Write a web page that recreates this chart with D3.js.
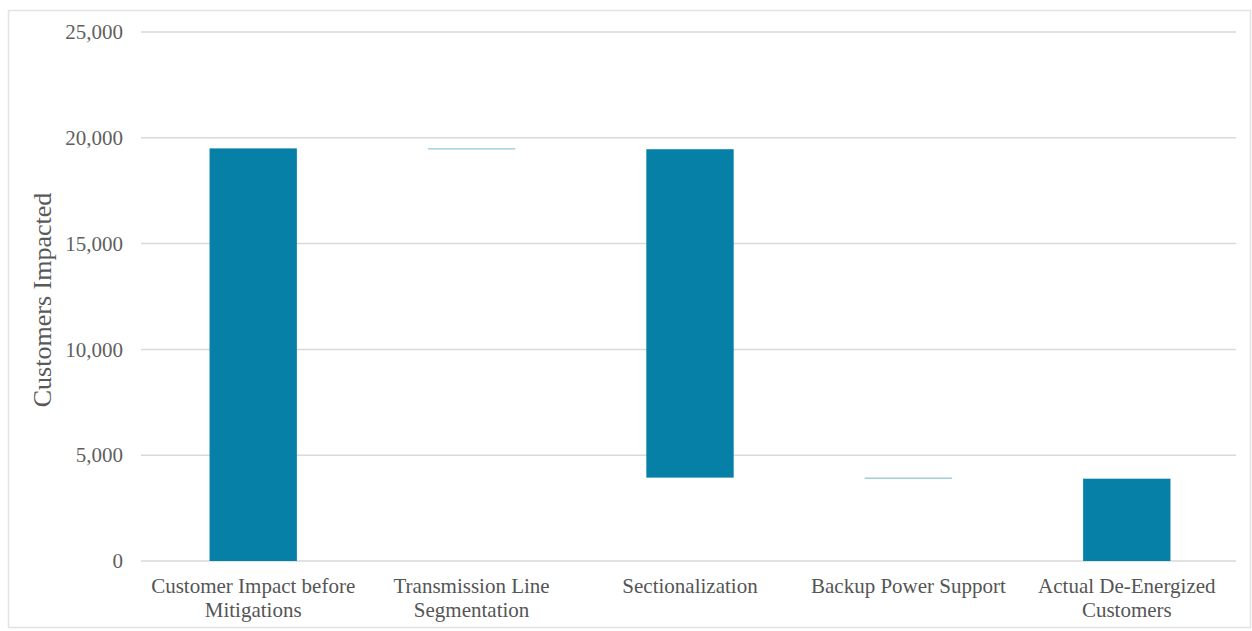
<!DOCTYPE html>
<html>
<head>
<meta charset="utf-8">
<script src="https://cdn.jsdelivr.net/npm/d3@7"></script>
<style>
  html, body { margin: 0; padding: 0; background: #fff; }
  svg { display: block; }
  text { font-family: "Liberation Serif", "Times New Roman", serif; }
</style>
</head>
<body>
<svg id="chart" width="1252" height="631"></svg>
<script>
// ---- data ----
const categories = [
  "Customer Impact before Mitigations",
  "Transmission Line Segmentation",
  "Sectionalization",
  "Backup Power Support",
  "Actual De-Energized Customers"
];
const categoryLabelLines = [
  ["Customer Impact before", "Mitigations"],
  ["Transmission Line", "Segmentation"],
  ["Sectionalization"],
  ["Backup Power Support"],
  ["Actual De-Energized", "Customers"]
];
// waterfall steps: first is the starting total, middle are reductions, last is a total
const stepValues = [19500, -40, -15520, -50, 3890];
const stepIsTotal = [true, false, false, false, true];
const yTickValues = [0, 5000, 10000, 15000, 20000, 25000];
const yTickLabels = ["0", "5,000", "10,000", "15,000", "20,000", "25,000"];
const yAxisTitle = "Customers Impacted";

// build floating bar extents
let running = 0;
const bars = categories.map((c, i) => {
  let lo, hi;
  if (stepIsTotal[i]) { lo = 0; hi = stepValues[i]; running = stepValues[i]; }
  else { const next = running + stepValues[i]; lo = Math.min(running, next); hi = Math.max(running, next); running = next; }
  return { cat: c, lo, hi };
});

const svg = d3.select("#chart");

// frame
svg.append("rect").attr("x", 8.5).attr("y", 10.5).attr("width", 1242).attr("height", 617)
  .attr("fill", "none").attr("stroke", "#e3e3e3").attr("stroke-width", 1.5);

const x = d3.scaleBand().domain(categories).range([144, 1236]).paddingInner(0.6).paddingOuter(0.3);
const y = d3.scaleLinear().domain([0, 25000]).range([561, 32]);

// gridlines
svg.append("g").selectAll("line").data(yTickValues).join("line")
  .attr("x1", 141).attr("x2", 1236)
  .attr("y1", d => y(d)).attr("y2", d => y(d))
  .attr("stroke", "#d9d9d9").attr("stroke-width", 1.5);

// y axis labels
const yAxis = d3.axisLeft(y).tickValues(yTickValues)
  .tickFormat((d, i) => yTickLabels[i]).tickSize(0).tickPadding(0);
const gy = svg.append("g").attr("transform", "translate(123,0)").call(yAxis);
gy.select(".domain").remove();
gy.selectAll("text").attr("font-family", "Liberation Serif, serif")
  .attr("font-size", 21).attr("fill", "#5f5f5f").attr("dy", "0.32em");

// bars
svg.append("g").selectAll("rect").data(bars).join("rect")
  .attr("x", d => x(d.cat))
  .attr("width", x.bandwidth())
  .attr("y", d => y(d.hi))
  .attr("height", d => Math.max(1, y(d.lo) - y(d.hi)))
  .attr("fill", "#0780a8")
  .attr("fill-opacity", d => (y(d.lo) - y(d.hi)) < 3 ? 0.55 : 1);

// x axis labels
const xAxis = d3.axisBottom(x).tickSize(0).tickFormat(() => "");
const gx = svg.append("g").attr("transform", "translate(0,561)").call(xAxis);
gx.select(".domain").remove();
gx.selectAll(".tick").each(function(d, i) {
  const t = d3.select(this).append("text")
    .attr("text-anchor", "middle")
    .attr("font-size", 21)
    .attr("fill", "#555555");
  categoryLabelLines[i].forEach((line, j) => {
    t.append("tspan").attr("x", 0).attr("y", 32 + j * 24).text(line);
  });
});

// y axis title
svg.append("text")
  .attr("transform", "translate(51,300) rotate(-90)")
  .attr("text-anchor", "middle")
  .attr("font-size", 26)
  .attr("fill", "#595959")
  .text(yAxisTitle);
</script>
</body>
</html>
